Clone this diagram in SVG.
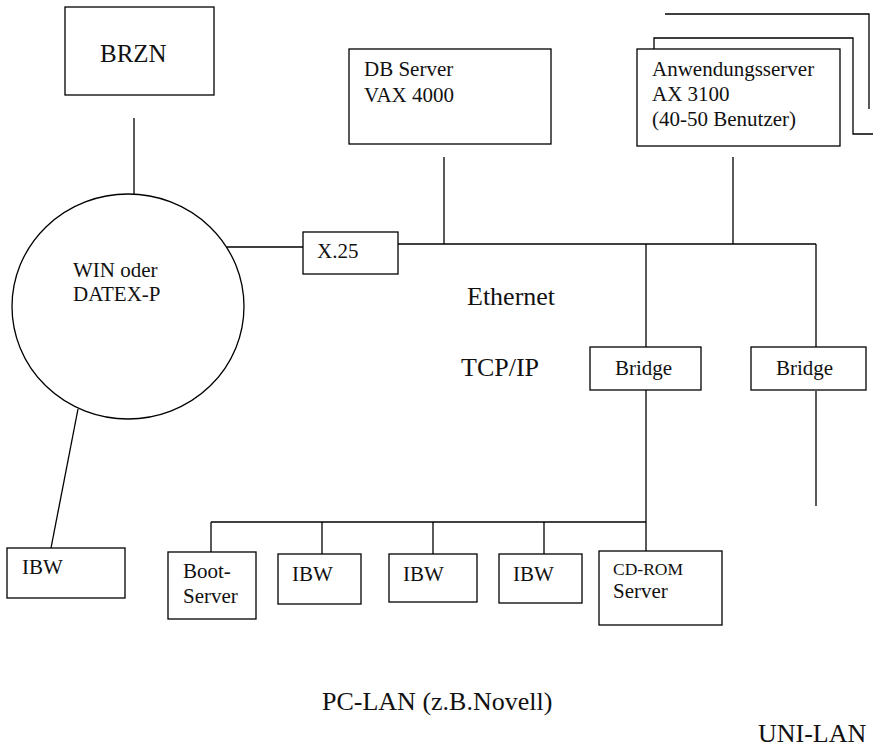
<svg xmlns="http://www.w3.org/2000/svg" width="875" height="749" viewBox="0 0 875 749">
<style>
.b{fill:#fff;stroke:#000;stroke-width:1.3}
.l{fill:none;stroke:#000;stroke-width:1.3}
text{font-family:"Liberation Serif","Times New Roman",serif;fill:#111;font-size:21px}
.big{font-size:26px}
</style>
<rect width="875" height="749" fill="#fff"/>
<g id="connectors">
<line class="l" x1="134" y1="118" x2="134" y2="194"/>
<line class="l" x1="227" y1="247" x2="303" y2="247"/>
<line class="l" x1="78" y1="409" x2="51" y2="548"/>
<line class="l" x1="398" y1="244" x2="816" y2="244"/>
<line class="l" x1="444" y1="157" x2="444" y2="244"/>
<line class="l" x1="733" y1="157" x2="733" y2="244"/>
<line class="l" x1="646" y1="244" x2="646" y2="347"/>
<line class="l" x1="816" y1="244" x2="816" y2="347"/>
<line class="l" x1="816" y1="391" x2="816" y2="506"/>
<line class="l" x1="646" y1="390" x2="646" y2="551"/>
<line class="l" x1="211" y1="522" x2="646" y2="522"/>
<line class="l" x1="211" y1="522" x2="211" y2="552"/>
<line class="l" x1="322" y1="522" x2="322" y2="554"/>
<line class="l" x1="433" y1="522" x2="433" y2="554"/>
<line class="l" x1="544" y1="522" x2="544" y2="554"/>
</g>
<g id="brzn"><rect class="b" x="65" y="7" width="149" height="88"/><text x="100" y="62" style="font-size:25px">BRZN</text></g>
<g id="win"><ellipse class="b" cx="128" cy="306.5" rx="116" ry="112.5"/><text x="73" y="277">WIN oder</text><text x="73" y="301">DATEX-P</text></g>
<g id="x25"><rect class="b" x="303" y="232" width="95" height="42"/><text x="317" y="258">X.25</text></g>
<g id="dbserver"><rect class="b" x="349" y="49" width="202" height="95"/><text x="364" y="76">DB Server</text><text x="364" y="102">VAX 4000</text></g>
<g id="appserver">
<path class="l" d="M665,14 H869 V109"/>
<path class="l" d="M654,49 V38 H853 V134 H873"/>
<rect class="b" x="637" y="49" width="203" height="97"/>
<text x="652" y="76">Anwendungsserver</text><text x="652" y="101">AX 3100</text><text x="652" y="126">(40-50 Benutzer)</text>
</g>
<g id="labels"><text class="big" x="467" y="305">Ethernet</text><text class="big" x="461" y="376">TCP/IP</text><text class="big" x="322" y="710">PC-LAN (z.B.Novell)</text><text class="big" x="758" y="742">UNI-LAN</text></g>
<g id="bridge1"><rect class="b" x="590" y="347" width="111" height="43"/><text x="615" y="375">Bridge</text></g>
<g id="bridge2"><rect class="b" x="751" y="347" width="115" height="43"/><text x="776" y="375">Bridge</text></g>
<g id="ibw0"><rect class="b" x="7" y="548" width="118" height="50"/><text x="22" y="574">IBW</text></g>
<g id="bootserver"><rect class="b" x="168" y="552" width="88" height="67"/><text x="183" y="578">Boot-</text><text x="183" y="603">Server</text></g>
<g id="ibw1"><rect class="b" x="278" y="554" width="83" height="50"/><text x="292" y="581">IBW</text></g>
<g id="ibw2"><rect class="b" x="389" y="554" width="88" height="48"/><text x="403" y="581">IBW</text></g>
<g id="ibw3"><rect class="b" x="499" y="554" width="83" height="49"/><text x="513" y="581">IBW</text></g>
<g id="cdrom"><rect class="b" x="599" y="551" width="123" height="74"/><text x="613" y="575" style="font-size:17.5px">CD-ROM</text><text x="613" y="598">Server</text></g>
</svg>
